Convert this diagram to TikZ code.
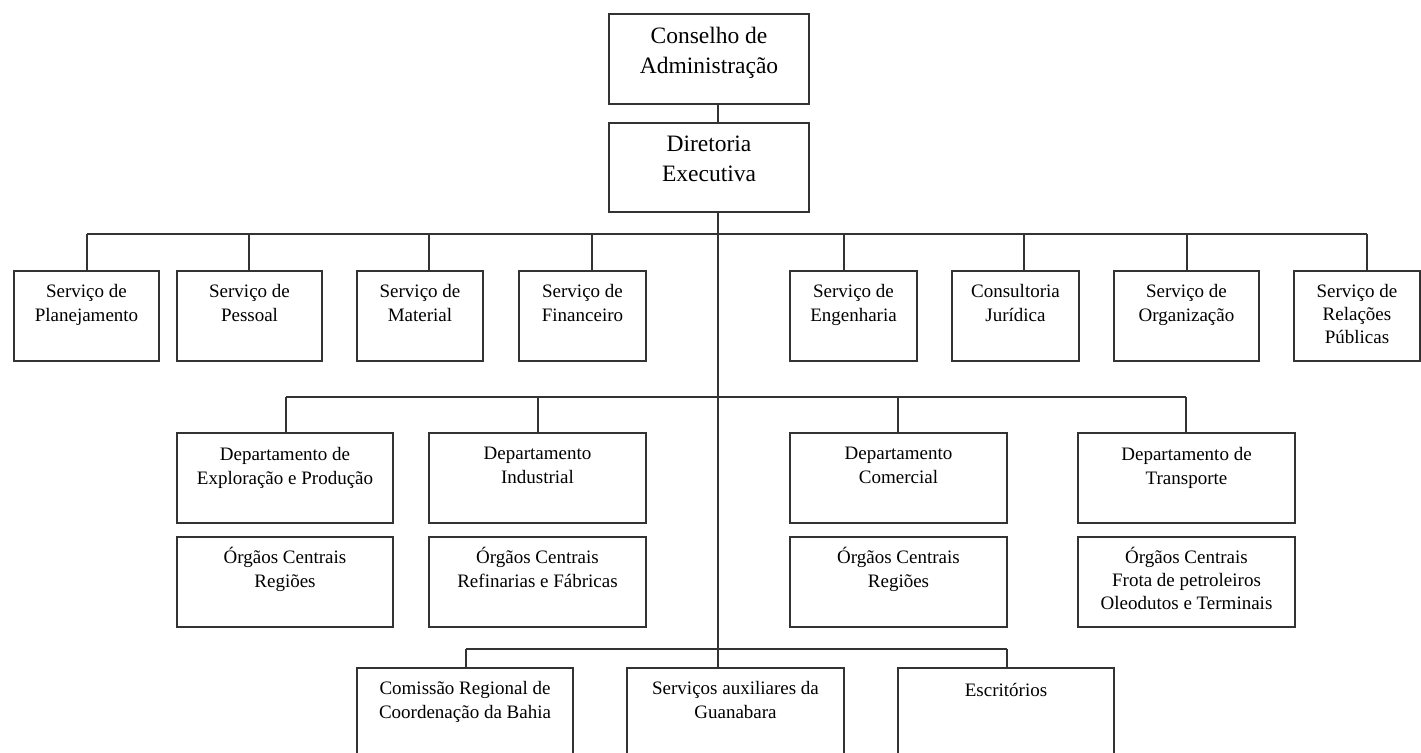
\documentclass[tikz,border=0pt]{standalone}
\usepackage{fontspec}
\setmainfont{Liberation Serif}
\usetikzlibrary{calc}

\tikzset{
  orgbox/.style={draw=black!80, line width=1.7pt, rectangle, inner sep=0pt,
                 outer sep=0pt, anchor=north west},
  orgline/.style={draw=black!80, line width=1.7pt},
  txtsmall/.style={inner sep=0pt, anchor=north, align=center,
                   font=\fontsize{19}{24}\selectfont},
  txtbig/.style={inner sep=0pt, anchor=north, align=center,
                 font=\fontsize{23.5}{30}\selectfont},
}

\begin{document}
\begin{tikzpicture}[x=1pt,y=-1pt]
\useasboundingbox (0,0) rectangle (1421,752);
\clip (0,0) rectangle (1421,752);
\fill[white] (0,0) rectangle (1421,752);

% top management
\node[orgbox, minimum width=200pt, minimum height=90pt] (con) at (609,14) {};
\node[txtbig] (cont) at ($(con.north)+(0,13)$) {Conselho de\\Administração};
\node[orgbox, minimum width=200pt, minimum height=89pt] (dir) at (609,123) {};
\node[txtbig] (dirt) at ($(dir.north)+(0,13)$) {Diretoria\\Executiva};

% staff services
\node[orgbox, minimum width=145pt, minimum height=90pt] (s1) at (14,271) {};
\node[orgbox, minimum width=145pt, minimum height=90pt] (s2) at (177,271) {};
\node[orgbox, minimum width=126pt, minimum height=90pt] (s3) at (357,271) {};
\node[orgbox, minimum width=127pt, minimum height=90pt] (s4) at (519,271) {};
\node[orgbox, minimum width=127pt, minimum height=90pt] (s5) at (790,271) {};
\node[orgbox, minimum width=127pt, minimum height=90pt] (s6) at (952,271) {};
\node[orgbox, minimum width=145pt, minimum height=90pt] (s7) at (1114,271) {};
\node[orgbox, minimum width=126pt, minimum height=90pt] (s8) at (1294,271) {};
\node[txtsmall] (s1t) at ($(s1.north)+(0,13.5)$) {Serviço de\\Planejamento};
\node[txtsmall] (s2t) at ($(s2.north)+(0,13.5)$) {Serviço de\\Pessoal};
\node[txtsmall] (s3t) at ($(s3.north)+(0,13.5)$) {Serviço de\\Material};
\node[txtsmall] (s4t) at ($(s4.north)+(0,13.5)$) {Serviço de\\Financeiro};
\node[txtsmall] (s5t) at ($(s5.north)+(0,13.5)$) {Serviço de\\Engenharia};
\node[txtsmall] (s6t) at ($(s6.north)+(0,13.5)$) {Consultoria\\Jurídica};
\node[txtsmall] (s7t) at ($(s7.north)+(0,13.5)$) {Serviço de\\Organização};
\node[txtsmall, font=\fontsize{19}{23}\selectfont] (s8t) at ($(s8.north)+(0,13.5)$) {Serviço de\\Relações\\Públicas};

% departments
\node[orgbox, minimum width=216pt, minimum height=90pt] (d1) at (177,433) {};
\node[orgbox, minimum width=217pt, minimum height=90pt] (d2) at (429,433) {};
\node[orgbox, minimum width=217pt, minimum height=90pt] (d3) at (790,433) {};
\node[orgbox, minimum width=217pt, minimum height=90pt] (d4) at (1078,433) {};
\node[txtsmall] (d1t) at ($(d1.north)+(0,14)$) {Departamento de\\Exploração e Produção};
\node[txtsmall] (d2t) at ($(d2.north)+(0,14)$) {Departamento\\Industrial};
\node[txtsmall] (d3t) at ($(d3.north)+(0,14)$) {Departamento\\Comercial};
\node[txtsmall] (d4t) at ($(d4.north)+(0,14)$) {Departamento de\\Transporte};

\node[orgbox, minimum width=216pt, minimum height=90pt] (o1) at (177,537) {};
\node[orgbox, minimum width=217pt, minimum height=90pt] (o2) at (429,537) {};
\node[orgbox, minimum width=217pt, minimum height=90pt] (o3) at (790,537) {};
\node[orgbox, minimum width=217pt, minimum height=90pt] (o4) at (1078,537) {};
\node[txtsmall] (o1t) at ($(o1.north)+(0,10)$) {Órgãos Centrais\\Regiões};
\node[txtsmall] (o2t) at ($(o2.north)+(0,10)$) {Órgãos Centrais\\Refinarias e Fábricas};
\node[txtsmall] (o3t) at ($(o3.north)+(0,10)$) {Órgãos Centrais\\Regiões};
\node[txtsmall, font=\fontsize{19}{23}\selectfont] (o4t) at ($(o4.north)+(0,10)$) {Órgãos Centrais\\Frota de petroleiros\\Oleodutos e Terminais};

% regional bodies
\node[orgbox, minimum width=216pt, minimum height=110pt] (b1) at (357,668) {};
\node[orgbox, minimum width=217pt, minimum height=110pt] (b2) at (627,668) {};
\node[orgbox, minimum width=216pt, minimum height=110pt] (b3) at (898,668) {};
\node[txtsmall] (b1t) at ($(b1.north)+(0,13.5)$) {Comissão Regional de\\Coordenação da Bahia};
\node[txtsmall] (b2t) at ($(b2.north)+(0,13.5)$) {Serviços auxiliares da\\Guanabara};
\node[txtsmall] (b3t) at ($(b3.north)+(0,15)$) {Escritórios};

% bus levels
\coordinate (bus1) at (718,234);
\coordinate (bus2) at (718,397);
\coordinate (bus3) at (718,649);

% connectors
\draw[orgline] ([xshift=9pt]con.south) -- ([xshift=9pt]dir.north);
\draw[orgline] ([xshift=9pt]dir.south) -- ([xshift=9pt]dir.south |- b2.north);

\draw[orgline] ([xshift=0.5pt]s1.north |- bus1) -- ([xshift=10pt]s8.north |- bus1);
\draw[orgline] ([xshift=0.5pt]s1.north) -- ([xshift=0.5pt]s1.north |- bus1);
\draw[orgline] ([xshift=-0.5pt]s2.north) -- ([xshift=-0.5pt]s2.north |- bus1);
\draw[orgline] ([xshift=9pt]s3.north) -- ([xshift=9pt]s3.north |- bus1);
\draw[orgline] ([xshift=9.5pt]s4.north) -- ([xshift=9.5pt]s4.north |- bus1);
\draw[orgline] ([xshift=-9.5pt]s5.north) -- ([xshift=-9.5pt]s5.north |- bus1);
\draw[orgline] ([xshift=8.5pt]s6.north) -- ([xshift=8.5pt]s6.north |- bus1);
\draw[orgline] ([xshift=0.5pt]s7.north) -- ([xshift=0.5pt]s7.north |- bus1);
\draw[orgline] ([xshift=10pt]s8.north) -- ([xshift=10pt]s8.north |- bus1);

\draw[orgline] ([xshift=1pt]d1.north |- bus2) -- ([xshift=-0.5pt]d4.north |- bus2);
\draw[orgline] ([xshift=1pt]d1.north) -- ([xshift=1pt]d1.north |- bus2);
\draw[orgline] ([xshift=0.5pt]d2.north) -- ([xshift=0.5pt]d2.north |- bus2);
\draw[orgline] ([xshift=-0.5pt]d3.north) -- ([xshift=-0.5pt]d3.north |- bus2);
\draw[orgline] ([xshift=-0.5pt]d4.north) -- ([xshift=-0.5pt]d4.north |- bus2);

\draw[orgline] ([xshift=1pt]b1.north |- bus3) -- ([xshift=1pt]b3.north |- bus3);
\draw[orgline] ([xshift=1pt]b1.north) -- ([xshift=1pt]b1.north |- bus3);
\draw[orgline] ([xshift=1pt]b3.north) -- ([xshift=1pt]b3.north |- bus3);
\end{tikzpicture}
\end{document}
